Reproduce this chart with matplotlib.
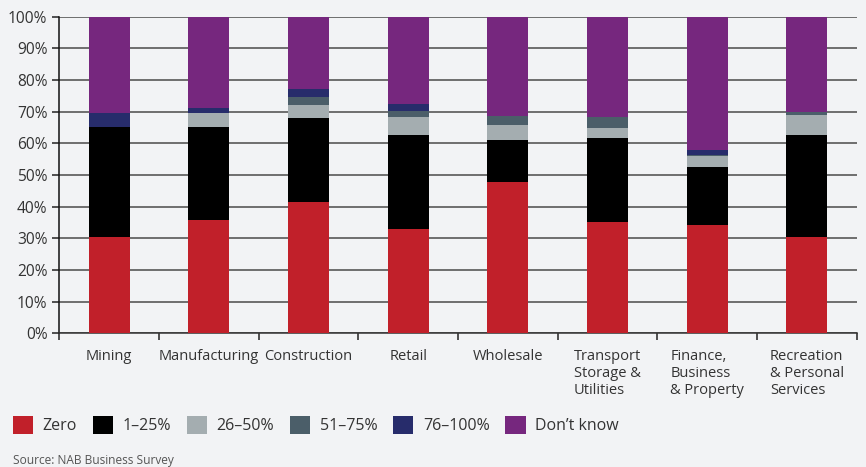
import matplotlib
matplotlib.use("Agg")
import matplotlib.pyplot as plt
import numpy as np

plt.rcParams['font.family'] = ['Open Sans', 'DejaVu Sans']

categories = ["Mining", "Manufacturing", "Construction", "Retail", "Wholesale",
              "Transport\nStorage &\nUtilities", "Finance,\nBusiness\n& Property",
              "Recreation\n& Personal\nServices"]

series_names = ["Zero", "1\u201325%", "26\u201350%", "51\u201375%", "76\u2013100%", "Don\u2019t know"]

zero       = [30.5, 35.8, 41.5, 33.0, 47.9, 35.1, 34.2, 30.4]
pct_1_25   = [34.6, 29.3, 26.4, 29.7, 13.2, 26.6, 18.3, 32.4]
pct_26_50  = [0.0, 4.5, 4.2, 5.5, 4.6, 3.3, 3.4, 6.3]
pct_51_75  = [0.0, 0.0, 2.6, 2.1, 3.0, 3.3, 0.5, 0.9]
pct_76_100 = [4.5, 1.7, 2.6, 2.1, 0.0, 0.0, 1.4, 0.0]
dont_know  = [30.4, 28.7, 22.7, 27.6, 31.3, 31.7, 42.2, 30.0]

colors = ["#c1202a", "#000000", "#a4adb0", "#4b5e69", "#272c6b", "#76277e"]
bg = "#f2f3f5"
text_color = "#333333"

fig = plt.figure(figsize=(8.66, 4.67), dpi=100, facecolor=bg)
ax = fig.add_axes([0.0685, 0.2861, 0.9208, 0.6781], facecolor=bg)

x = np.arange(len(categories))
bottom = np.zeros(len(categories))
handles = []
for vals, col, name in zip([zero, pct_1_25, pct_26_50, pct_51_75, pct_76_100, dont_know],
                           colors, series_names):
    vals = np.array(vals)
    b = ax.bar(x, vals, width=0.41, bottom=bottom, color=col, label=name, zorder=3,
               linewidth=0)
    handles.append(b)
    bottom += vals

ax.set_xlim(-0.5, len(categories) - 0.5)
ax.set_ylim(0, 100)
ax.set_yticks(np.arange(0, 101, 10))
ax.set_yticklabels([f"{v}%" for v in range(0, 101, 10)])
ax.yaxis.grid(True, color="#4a4a4a", linewidth=1.1, zorder=0)
ax.set_axisbelow(True)

# category labels centred in each slot, ticks at slot boundaries
ax.set_xticks(x)
ax.set_xticklabels(categories, multialignment='left', va='top')
ax.tick_params(axis='x', length=0, pad=11.2, labelsize=10.5, labelcolor=text_color)
ax.set_xticks(np.arange(-0.5, len(categories)), minor=True)
ax.tick_params(axis='x', which='minor', length=5, width=1.1, color="#222222", direction='out')
ax.tick_params(axis='y', length=5, width=1.1, color="#222222", pad=3.6,
               labelsize=11.2, labelcolor=text_color)

for s in ["top", "right"]:
    ax.spines[s].set_visible(False)
ax.spines["left"].set_color("#111111")
ax.spines["left"].set_linewidth(1.1)
ax.spines["bottom"].set_color("#333333")
ax.spines["bottom"].set_linewidth(1.1)

leg = fig.legend(handles=handles, labels=series_names, loc="center left",
                 bbox_to_anchor=(0.0, 0.0893), ncol=6, frameon=False,
                 fontsize=11.5, handlelength=1.28, handleheight=1.28,
                 handletextpad=0.6, columnspacing=0.97, labelcolor=text_color,
                 borderpad=0.3)

fig.text(0.0153, 0.013, "Source: NAB Business Survey", fontsize=8.6, color="#555555",
         ha="left", va="center")

fig.savefig("out.png", dpi=100, facecolor=bg)
